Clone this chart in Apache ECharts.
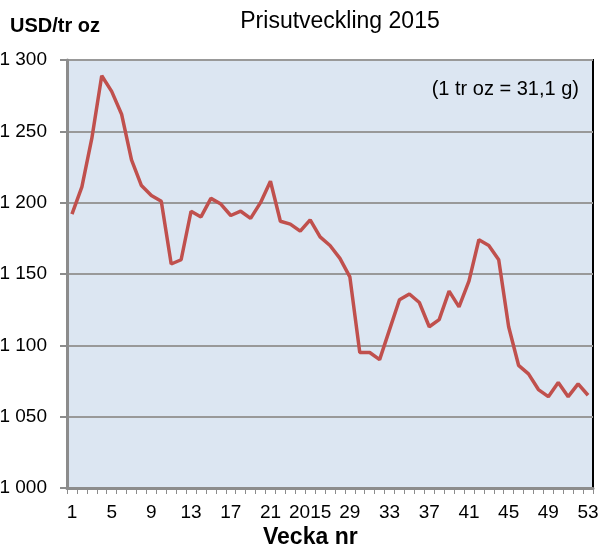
<!DOCTYPE html>
<html>
<head>
<meta charset="utf-8">
<script src="https://cdn.jsdelivr.net/npm/echarts@6/dist/echarts.min.js"></script>
<style>
  html, body { margin: 0; padding: 0; background: #fff; }
  #chart { width: 601px; height: 550px; }
</style>
</head>
<body>
<div id="chart"></div>
<script>
// veckonummer 1..53
var weeks = ['1','2','3','4','5','6','7','8','9','10','11','12','13','14','15','16','17','18',
  '19','20','21','22','23','24','25','26','27','28','29','30','31','32','33','34','35','36',
  '37','38','39','40','41','42','43','44','45','46','47','48','49','50','51','52','53'];

// guldpris USD/tr oz per vecka (avläst)
var prices = [1192, 1211, 1245, 1289, 1278, 1262, 1230, 1212, 1205, 1201,
  1157, 1160, 1194, 1190, 1203, 1199, 1191, 1194, 1189, 1200,
  1215, 1187, 1185, 1180, 1188, 1176, 1170, 1161, 1148, 1095,
  1095, 1090, 1111, 1132, 1136, 1130, 1113, 1118, 1138, 1127,
  1145, 1174, 1170, 1160, 1113, 1086, 1080, 1069, 1064, 1074,
  1064, 1073, 1065];

// x-etiketter var fjärde vecka (som i originalet)
var xTickLabels = ['1','5','9','13','17','21','2015','29','33','37','41','45','49','53'];
var yTickLabels = ['1 000','1 050','1 100','1 150','1 200','1 250','1 300'];

var chart = echarts.init(document.getElementById('chart'));

var font = 'Liberation Sans, Arial, sans-serif';

var option = {
  animation: false,
  textStyle: { fontFamily: font },
  title: {
    text: 'Prisutveckling 2015',
    left: 335,
    top: 5,
    textAlign: 'center',
    textStyle: { fontSize: 23, fontWeight: 'normal', color: '#000', fontFamily: font }
  },
  graphic: [
    {
      type: 'text', left: 10, top: 16,
      style: { text: 'USD/tr oz', font: 'bold 20px ' + font, fill: '#000' }
    },
    {
      type: 'text', right: 22, top: 79,
      style: { text: '(1 tr oz = 31,1 g)', font: '20px ' + font, fill: '#000' }
    },
    {
      type: 'text', left: 263, top: 526,
      style: { text: 'Vecka nr', font: 'bold 23px ' + font, fill: '#000' }
    }
  ],
  grid: {
    left: 67, right: 8, top: 60, bottom: 62,
    containLabel: false,
    outerBoundsMode: 'none',
    show: true,
    backgroundColor: '#dce6f2',
    borderColor: '#000',
    borderWidth: 2
  },
  xAxis: {
    type: 'category',
    data: weeks,
    boundaryGap: true,
    axisLine: { lineStyle: { color: '#8c8c8c', width: 3 } },
    axisTick: { show: true, interval: 0, length: 6, lineStyle: { color: '#8c8c8c', width: 1 } },
    axisLabel: {
      interval: 3,
      margin: 15,
      fontSize: 19,
      color: '#000',
      fontFamily: font,
      formatter: function (v, i) { return xTickLabels[i / 4]; }
    },
    splitLine: { show: false }
  },
  yAxis: {
    type: 'value',
    min: 1000,
    max: 1300,
    interval: 50,
    axisLine: { show: true, lineStyle: { color: '#8c8c8c', width: 3 } },
    axisTick: { show: true, length: 7, lineStyle: { color: '#8c8c8c', width: 2 } },
    axisLabel: {
      margin: 20,
      fontSize: 19,
      color: '#000',
      fontFamily: font,
      formatter: function (v) { return yTickLabels[Math.round((v - 1000) / 50)]; }
    },
    splitLine: { show: true, lineStyle: { color: '#999', width: 2 } }
  },
  series: [
    {
      type: 'line',
      data: prices,
      symbol: 'none',
      lineStyle: { color: '#c0504d', width: 3.5 }
    }
  ]
};

chart.setOption(option);
</script>
</body>
</html>
